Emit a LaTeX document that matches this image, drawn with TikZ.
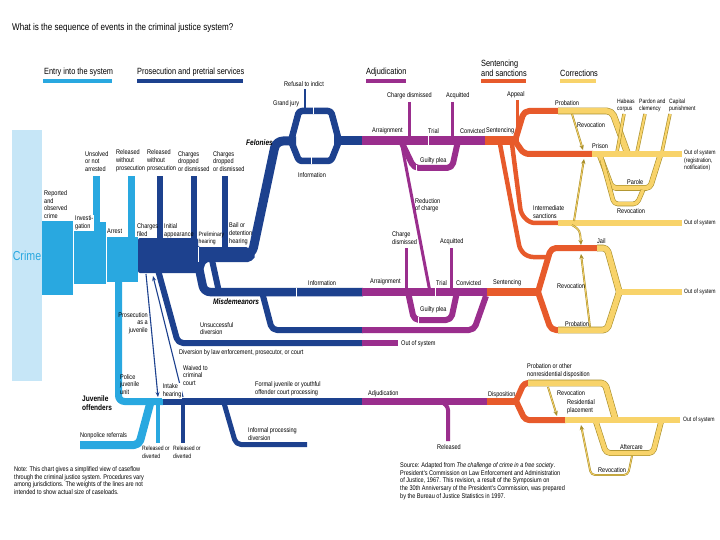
\documentclass[tikz,border=0pt]{standalone}
\usepackage{fontspec}
\setmainfont{Liberation Sans}
\newfontfamily\cond[FakeStretch=0.82]{Liberation Sans}
\usetikzlibrary{arrows.meta, positioning}

\definecolor{crimeBg}{HTML}{C6E6F7}
\definecolor{entry}{HTML}{29A8E0}
\definecolor{pros}{HTML}{1D418E}
\definecolor{adj}{HTML}{9A2E8D}
\definecolor{sent}{HTML}{E75A2B}
\definecolor{corr}{HTML}{F8D36A}
\definecolor{corrEdge}{HTML}{A88F2C}

\begin{document}
\begin{tikzpicture}[x=1pt, y=-1pt, line join=round, >=Stealth,
  lbl/.style={font=\cond\fontsize{6.8}{7.8}\selectfont, inner sep=0pt, align=left},
  lblsm/.style={font=\cond\fontsize{6.2}{7.4}\selectfont, inner sep=0pt, align=left},
  tag/.style={font=\cond\bfseries\itshape\fontsize{8}{9}\selectfont, inner sep=0pt},
  note/.style={font=\cond\fontsize{6.8}{7.9}\selectfont, inner sep=0pt, align=left},
  head/.style={font=\cond\fontsize{9}{10}\selectfont, inner sep=0pt, align=left},
  mainflow/.style={line width=8.5pt},
  subflow/.style={line width=6pt},
  thinflow/.style={line width=3pt},
  yband/.style={draw=corrEdge, line width=0.6pt, double=corr, double distance=#1},
  yband/.default=5.5pt,
  revo/.style={draw=corrEdge, line width=1.9pt, -{Stealth[length=5pt, width=4.5pt]},
    postaction={draw=corr, line width=0.8pt, shorten >=4pt, -}},
  jarrow/.style={draw=pros, line width=1.1pt, -{Stealth[length=5pt, width=4pt]}},
  gap/.style={draw=white, line width=0.8pt}]

\useasboundingbox[fill=white] (0,0) rectangle (720,540);

% title and legend
\node[font=\cond\fontsize{9.8}{11}\selectfont, anchor=west, inner sep=0pt] (title) at (12,28) {What is the sequence of events in the criminal justice system?};
\node[head, anchor=south west] (legEntry) at (44,77) {Entry into the system};
\node[head, anchor=south west] (legPros) at (137,77) {Prosecution and pretrial services};
\node[head, anchor=south west] (legAdj) at (366,77) {Adjudication};
\node[head, anchor=south west] (legSent) at (481,77) {Sentencing\\and sanctions};
\node[head, anchor=south west] (legCorr) at (560,77) {Corrections};
\draw[entry, line width=4.5pt] (43,81) -- (112,81);
\draw[pros, line width=4.5pt] (137,81) -- (243,81);
\draw[adj, line width=4.5pt] (366,81) -- (406,81);
\draw[sent, line width=4.5pt] (481,81) -- (526,81);
\draw[corr, line width=4.5pt] (560,81) -- (596,81);

% entry into the system
\fill[crimeBg] (12,130) rectangle (42,381);
\node[font=\cond\fontsize{13}{14}\selectfont, text=entry, inner sep=0pt] (crime) at (27,256) {Crime};
\fill[entry] (42,221) rectangle (73,295);
\fill[entry] (73,222) rectangle (106,284);
\fill[entry] (106,237) rectangle (138,282);
\fill[entry] (93,176) rectangle (100,223);
\fill[entry] (128,176) rectangle (135,238);
\draw[gap] (73,222) -- (73,284);
\draw[gap] (106,237) -- (106,282);
\draw[entry, line width=7pt, rounded corners=6pt] (118.5,282) -- (118.5,401.5) -- (163,401.5);
\draw[entry, line width=8pt, rounded corners=5pt] (150,404) -- (139,445) -- (80,445);
\draw[entry, line width=4pt] (158,404) -- (158,443);

% prosecution and pretrial services
\fill[pros, rounded corners=2pt] (138,238) -- (198,238) -- (198,247) -- (248,247) -- (256,256) -- (250,262) -- (206,262) -- (202,273) -- (138,273) -- cycle;
\fill[pros] (157,176) rectangle (163,239);
\fill[pros] (191,176) rectangle (197,239);
\fill[pros] (222,176) rectangle (228,248);
\draw[gap] (198,247) -- (198,262);
% felonies and grand jury
\draw[pros, line width=9pt, rounded corners=7pt] (238,254.5) -- (252,254.5) -- (276,141) -- (296,141);
\draw[pros, line width=6.5pt, rounded corners=3pt] (291,141) -- (299,111) -- (331,111) -- (339,141);
\draw[pros, line width=6.5pt, rounded corners=3pt] (291,141) -- (299,161) -- (331,161) -- (339,141);
\draw[pros, line width=9pt] (334,141) -- (363,141);
\draw[pros, line width=2.2pt] (305,108) -- (305,89);
\draw[gap] (313,107.5) -- (313,114.5);
\draw[gap] (311,157.5) -- (311,164.5);
% misdemeanors and diversion
\draw[pros, mainflow, rounded corners=6pt] (199,268) -- (204,292) -- (363,292);
\draw[pros, subflow, rounded corners=4pt] (212,260) -- (219,292);
\draw[gap] (296,287.5) -- (296,296.5);
\draw[pros, subflow, rounded corners=5pt] (262,292) -- (272,330) -- (363,330);
\draw[pros, subflow, rounded corners=5pt] (158,270) -- (178,343) -- (363,343);
% juvenile
\draw[jarrow] (146,274) -- (158,397);
\draw[jarrow] (183,397) -- (153,276);
\draw[pros, line width=7pt] (163,401.5) -- (363,401.5);
\draw[pros, line width=4pt] (183,404) -- (183,443);
\draw[pros, line width=5pt, rounded corners=5pt] (224,403) -- (236,444.5) -- (307,444.5);

% adjudication
\draw[adj, line width=9pt] (362,141) -- (486,141);
\draw[adj, thinflow] (409,102) -- (409,141);
\draw[adj, thinflow] (452,102) -- (452,141);
\draw[adj, subflow, rounded corners=5pt] (401,141) -- (414,168) -- (452,168) -- (458,141);
\draw[gap] (428,136) -- (428,146);
\draw[gap] (416,165) -- (416,171);
\draw[adj, thinflow] (402,146) -- (430,292);
\draw[adj, mainflow] (362,292) -- (488,292);
\draw[adj, thinflow] (406,248) -- (406,292);
\draw[adj, thinflow] (451,248) -- (451,292);
\draw[adj, subflow, rounded corners=5pt] (408,292) -- (414,320) -- (451,320) -- (457,292);
\draw[gap] (435,287.5) -- (435,296.5);
\draw[gap] (418,317) -- (418,323);
\draw[adj, subflow, rounded corners=5pt] (362,330) -- (474,330) -- (486,296);
\draw[adj, subflow] (362,343) -- (398,343);
\draw[adj, line width=7pt] (362,401.5) -- (488,401.5);
\draw[adj, line width=4pt, rounded corners=3pt] (441,401) -- (448,407) -- (448,441);

% sentencing and sanctions
\draw[sent, line width=9pt] (485,141) -- (518,141);
\draw[sent, thinflow] (517,100) -- (517,141);
\draw[sent, line width=4.5pt, rounded corners=5pt] (500,144) -- (520,250) -- (528,257) -- (548,257);
\draw[sent, line width=4.5pt, rounded corners=5pt] (512,144) -- (521,214) -- (530,223) -- (559,223);
\draw[sent, subflow, rounded corners=5pt] (515,141) -- (524,111) -- (559,111);
\draw[sent, subflow, rounded corners=5pt] (515,141) -- (524,154) -- (593,154);
\draw[sent, mainflow] (487,292) -- (541,292);
\draw[sent, subflow, rounded corners=5pt] (538,292) -- (551,248) -- (598,248);
\draw[sent, subflow, rounded corners=5pt] (538,292) -- (551,330) -- (559,330);
\draw[sent, line width=7pt] (487,401.5) -- (519,401.5);
\draw[sent, subflow, rounded corners=4pt] (516,401) -- (524,383) -- (530,383);
\draw[sent, subflow, rounded corners=4pt] (516,401) -- (525,420) -- (566,420);

% corrections
\draw[yband, rounded corners=5pt] (558,111) -- (612,111) -- (627,152);
\draw[yband=4.5pt, rounded corners=4pt] (600,156) -- (612,188) -- (650,188) -- (660,156);
\draw[yband=3.5pt, rounded corners=4pt] (643,190) -- (637,204) -- (614,204) -- (602,160);
\draw[yband=2.2pt] (617,152) -- (624,114);
\draw[yband=2.2pt] (637,152) -- (645,114);
\draw[yband=2.2pt] (662,152) -- (670,114);
\draw[yband] (592,154) -- (682,154);
\draw[revo] (572,114) -- (583,150);
\draw[yband] (558,223) -- (682,223);
\draw[revo] (574,221) -- (584,159);
\draw[revo] (572,225) .. controls (580,230) .. (581,245);
\draw[yband, rounded corners=4pt] (597,248) -- (607,248) -- (619,291);
\draw[yband, rounded corners=4pt] (558,330) -- (607,330) -- (619,293);
\draw[yband] (616,292) -- (682,292);
\draw[revo] (590,327) -- (581,254);
\draw[yband, rounded corners=4pt] (528,383) -- (605,383) -- (615,418);
\draw[yband=4.5pt, rounded corners=4pt] (596,422) -- (606,453) -- (653,453) -- (661,422);
\draw[yband] (565,420) -- (680,420);
\draw[revo] (548,387) -- (557,416);
\draw[revo, rounded corners=4pt] (632,456) -- (628,475) -- (591,475) -- (581,425);

% labels: entry and pretrial
\node[lbl, anchor=south west] (unsolved) at (85,172) {Unsolved\\or not\\arrested};
\node[lbl, anchor=south west] (relEntry) at (116,172) {Released\\without\\prosecution};
\node[lbl, anchor=south west] (relPros) at (147,172) {Released\\without\\prosecution};
\node[lbl, anchor=south west] (dropA) at (178,172) {Charges\\dropped\\or dismissed};
\node[lbl, anchor=south west] (dropB) at (213,172) {Charges\\dropped\\or dismissed};
\node[lbl, anchor=south west] (reported) at (44,219) {Reported\\and\\observed\\crime};
\node[lbl, anchor=south west, fill=white, inner sep=1pt] (investigation) at (74,231) {Investi-\\gation};
\node[lbl, anchor=south west, fill=white, inner sep=1pt] (arrest) at (106,235) {Arrest};
\node[lbl, anchor=south west] (filed) at (137,237) {Charges\\filed};
\node[lbl, anchor=south west] (initial) at (164,238) {Initial\\appearance};
\node[lblsm, anchor=south west] (prelim) at (198.5,245) {Preliminary\\hearing};
\node[lbl, anchor=south west] (bail) at (229,245) {Bail or\\detention\\hearing};
\node[tag, anchor=east] (felonies) at (273,143) {Felonies};
\node[lbl, anchor=south west] (grandJury) at (273,107) {Grand jury};
\node[lbl, anchor=south] (refusal) at (304,87) {Refusal to indict};
\node[lbl] (infoFel) at (312,175) {Information};
\node[lbl, anchor=south west] (infoMis) at (308,286) {Information};
\node[tag, anchor=north west] (misdemeanors) at (213,299) {Misdemeanors};
\node[lbl, anchor=north west] (unsuccessful) at (200,322) {Unsuccessful\\diversion};
\node[lbl, anchor=north west] (diversion) at (179,349) {Diversion by law enforcement, prosecutor, or court};
\node[lbl, anchor=west] (outDiv) at (401,344) {Out of system};

% labels: juvenile
\node[lbl, align=right, anchor=north east] (asJuvenile) at (148,312) {Prosecution\\as a\\juvenile};
\node[lbl, anchor=north west] (police) at (120,374) {Police\\juvenile\\unit};
\node[font=\cond\bfseries\fontsize{8}{9}\selectfont, inner sep=0pt, align=left, anchor=north west] (juvenile) at (82,396) {Juvenile\\offenders};
\node[lbl, anchor=north west, fill=white, inner sep=0.6pt] (intake) at (162,383) {Intake\\hearing};
\node[lbl, anchor=north west] (waived) at (183,365) {Waived to\\criminal\\court};
\node[lbl, anchor=south west] (nonpolice) at (80,439) {Nonpolice referrals};
\node[lblsm, anchor=north west] (relJuvA) at (142,446) {Released or\\diverted};
\node[lblsm, anchor=north west] (relJuvB) at (173,446) {Released or\\diverted};
\node[lbl, anchor=south west] (formal) at (255,396) {Formal juvenile or youthful\\offender court processing};
\node[lbl, anchor=south west] (informal) at (248,441) {Informal processing\\diversion};

% labels: adjudication
\node[lbl, anchor=south west] (arrFel) at (372,134) {Arraignment};
\node[lbl, anchor=south west] (trialFel) at (428,134) {Trial};
\node[lbl, anchor=south west] (convFel) at (460,134) {Convicted};
\node[lbl, anchor=south west] (sentFel) at (486,134) {Sentencing};
\node[lbl, anchor=south west] (dismFel) at (387,99) {Charge dismissed};
\node[lbl, anchor=south west] (acqFel) at (446,99) {Acquitted};
\node[lbl, anchor=south west] (pleaFel) at (420,164) {Guilty plea};
\node[lbl, anchor=north west] (reduction) at (415,198) {Reduction\\of charge};
\node[lbl, anchor=south west] (dismMis) at (392,245) {Charge\\dismissed};
\node[lbl, anchor=south west] (acqMis) at (440,245) {Acquitted};
\node[lbl, anchor=south west] (arrMis) at (370,285) {Arraignment};
\node[lbl, anchor=south west] (trialMis) at (436,286) {Trial};
\node[lbl, anchor=south west] (convMis) at (456,286) {Convicted};
\node[lbl, anchor=south west] (sentMis) at (493,286) {Sentencing};
\node[lbl, anchor=south west] (pleaMis) at (420,313) {Guilty plea};
\node[lbl, anchor=south west] (adjJuv) at (368,397) {Adjudication};
\node[lbl, anchor=north west] (released) at (437,444) {Released};

% labels: sentencing and corrections
\node[lbl, anchor=south west] (appeal) at (507,98) {Appeal};
\node[lbl, anchor=south west] (probFel) at (555,106) {Probation};
\node[lbl, anchor=south west] (revProb) at (577,128) {Revocation};
\node[lbl, anchor=south west] (prison) at (592,149) {Prison};
\node[lblsm, anchor=south west] (habeas) at (617,112) {Habeas\\corpus};
\node[lblsm, anchor=south west] (pardon) at (639,112) {Pardon and\\clemency};
\node[lblsm, anchor=south west] (capital) at (669,112) {Capital\\punishment};
\node[lblsm, anchor=north west] (outPrison) at (684,150) {Out of system\\(registration,\\notification)};
\node[lbl, anchor=south west] (parole) at (627,185) {Parole};
\node[lbl, anchor=north west] (revParole) at (617,208) {Revocation};
\node[lbl, anchor=south west] (intermediate) at (533,219) {Intermediate\\sanctions};
\node[lblsm, anchor=west] (outInter) at (684,223) {Out of system};
\node[lbl, anchor=south west] (jail) at (597,244) {Jail};
\node[lbl, anchor=south west] (revJail) at (557,289) {Revocation};
\node[lblsm, anchor=west] (outJail) at (684,292) {Out of system};
\node[lbl, anchor=south west] (probMis) at (565,327) {Probation};
\node[lbl, anchor=south west] (disposition) at (488,398) {Disposition};
\node[lbl, anchor=south west] (probJuv) at (527,378) {Probation or other\\nonresidential disposition};
\node[lbl, anchor=south west] (revJuv) at (557,396) {Revocation};
\node[lbl, anchor=south west] (residential) at (567,414) {Residential\\placement};
\node[lblsm, anchor=west] (outJuv) at (683,420) {Out of system};
\node[lbl, anchor=south west] (aftercare) at (620,450) {Aftercare};
\node[lbl, anchor=south west] (revAfter) at (598,473) {Revocation};

% notes
\node[note, anchor=north west] (noteText) at (14,466) {Note: This chart gives a simplified view of caseflow\\through the criminal justice system. Procedures vary\\among jurisdictions. The weights of the lines are not\\intended to show actual size of caseloads.};
\node[note, anchor=north west] (sourceText) at (400,462) {Source: Adapted from \textit{The challenge of crime in a free society}.\\President's Commission on Law Enforcement and Administration\\of Justice, 1967. This revision, a result of the Symposium on\\the 30th Anniversary of the President's Commission, was prepared\\by the Bureau of Justice Statistics in 1997.};
\end{tikzpicture}
\end{document}
